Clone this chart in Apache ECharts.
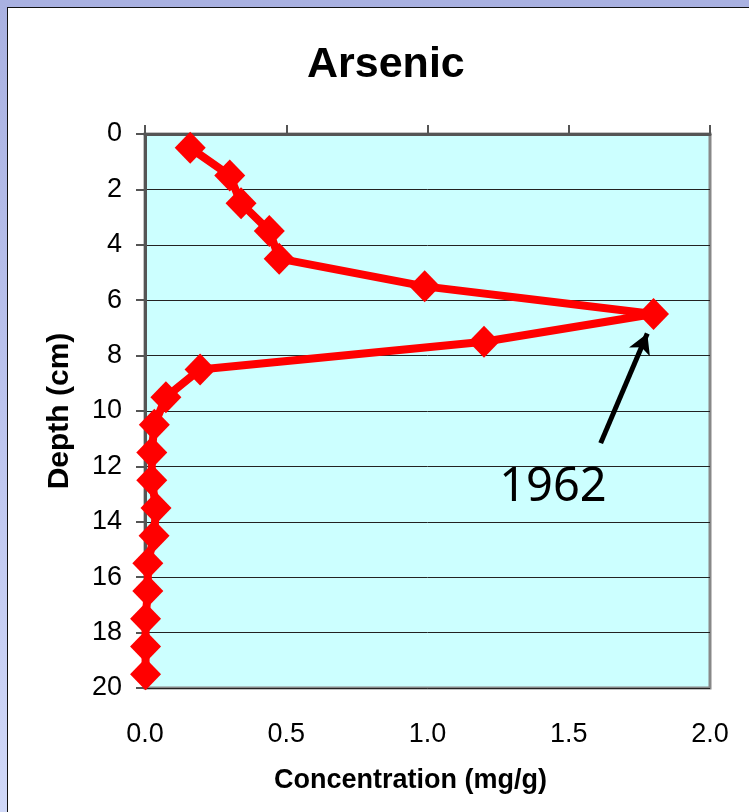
<!DOCTYPE html>
<html>
<head>
<meta charset="utf-8">
<script src="https://cdn.jsdelivr.net/npm/echarts@6/dist/echarts.min.js"></script>
<style>
  html, body { margin: 0; padding: 0; width: 749px; height: 812px; overflow: hidden;
    background: linear-gradient(to bottom, #a9b1e1 0%, #bcc4ee 50%, #d0d8f8 100%); }
  #panel { position: absolute; left: 7px; top: 7px; width: 760px; height: 820px;
    background: #ffffff; border-top: 1px solid #111; border-left: 1px solid #111; }
  #chart { position: absolute; left: 0; top: 0; width: 749px; height: 812px; }
</style>
</head>
<body>
<div id="panel"></div>
<div id="chart"></div>
<script>
// Data
const depthCm = [0.5, 1.5, 2.5, 3.5, 4.5, 5.5, 6.5, 7.5, 8.5, 9.5,
                 10.5, 11.5, 12.5, 13.5, 14.5, 15.5, 16.5, 17.5, 18.5, 19.5];
const arsenicMgG = [0.16, 0.30, 0.34, 0.44, 0.475, 0.99, 1.80, 1.20, 0.195, 0.074,
                    0.033, 0.024, 0.024, 0.039, 0.032, 0.01, 0.01, 0.002, 0.002, 0.002];
const xTicks = [0, 0.5, 1.0, 1.5, 2.0];
const yTicks = [0, 2, 4, 6, 8, 10, 12, 14, 16, 18, 20];
// Annotation (data units): arrow tail, arrow head, label position
const arrowFrom = [1.613, 11.16];
const arrowTo = [1.778, 7.2];
const labelAt = [1.444, 12.78];
const labelText = '1962';

const FONT = 'Liberation Sans, Arial, sans-serif';
const chart = echarts.init(document.getElementById('chart'), null, { renderer: 'canvas' });

const axisBase = {
  type: 'value', min: xTicks[0], max: xTicks[xTicks.length - 1], interval: 0.5
};

chart.setOption({
  backgroundColor: 'transparent',
  animation: false,
  title: {
    text: 'Arsenic', left: 302, top: 39,
    textStyle: { fontFamily: FONT, fontSize: 43, fontWeight: 'bold', color: '#000' }
  },
  grid: {
    left: 145, top: 134, right: 39, bottom: 124,
    show: true, backgroundColor: '#ccffff', borderColor: '#888888', borderWidth: 3
  },
  xAxis: [
    Object.assign({}, axisBase, {
      position: 'top',
      axisLine: { show: true, lineStyle: { color: '#555555', width: 3 } },
      axisTick: { show: true, inside: false, length: 9, lineStyle: { color: '#555555', width: 2 } },
      axisLabel: { show: false },
      splitLine: { show: false }
    }),
    Object.assign({}, axisBase, {
      position: 'bottom',
      name: 'Concentration (mg/g)', nameLocation: 'middle', nameGap: 79,
      nameTextStyle: { fontFamily: FONT, fontSize: 27, fontWeight: 'bold', color: '#000',
        padding: [0, 34, 0, 0] },
      axisLine: { show: false },
      axisTick: { show: false },
      axisLabel: { show: true, margin: 33, fontFamily: FONT, fontSize: 27, color: '#000',
        formatter: v => v.toFixed(1) },
      splitLine: { show: false }
    })
  ],
  yAxis: {
    type: 'value', inverse: true, min: yTicks[0], max: yTicks[yTicks.length - 1], interval: 2,
    name: 'Depth (cm)', nameLocation: 'middle', nameGap: 70, nameRotate: 90,
    nameTextStyle: { fontFamily: FONT, fontSize: 30, fontWeight: 'bold', color: '#000' },
    axisLine: { show: true, lineStyle: { color: '#555555', width: 3 } },
    axisTick: { show: true, inside: false, length: 9, lineStyle: { color: '#555555', width: 2 } },
    axisLabel: { margin: 23, fontFamily: FONT, fontSize: 27, color: '#000' },
    splitLine: { show: true, lineStyle: { color: '#222222', width: 1 } }
  },
  series: [{
    type: 'line',
    xAxisIndex: 0,
    data: depthCm.map((d, i) => [arsenicMgG[i], d]),
    symbol: 'diamond', symbolSize: [31, 32],
    lineStyle: { color: '#ff0000', width: 8 },
    itemStyle: { color: '#ff0000' },
    z: 3,
    markLine: {
      silent: true, animation: false,
      symbol: ['none', 'arrow'], symbolSize: [17, 20],
      label: { show: false },
      lineStyle: { color: '#000', width: 5, type: 'solid' },
      data: [[{ coord: arrowFrom }, { coord: arrowTo }]]
    },
    markPoint: {
      silent: true, animation: false,
      symbol: 'circle', symbolSize: 1, itemStyle: { color: 'rgba(0,0,0,0)' },
      label: { show: true, position: 'inside', formatter: labelText,
        fontFamily: 'Noto Sans, Open Sans, sans-serif', fontSize: 47, color: '#000' },
      data: [{ coord: labelAt }]
    }
  }]
});
</script>
</body>
</html>
